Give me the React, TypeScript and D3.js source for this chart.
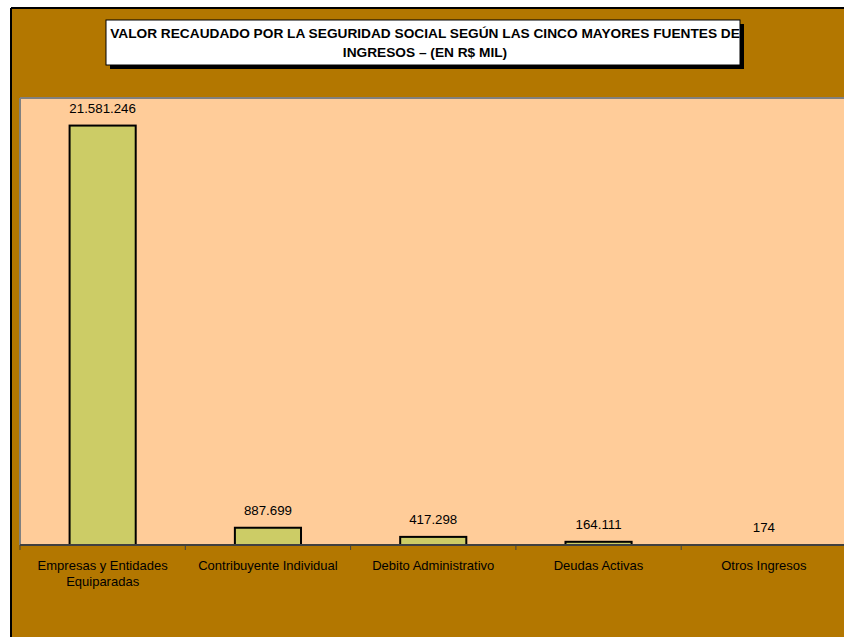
import React from "react";
import * as d3 from "d3";

const categories: string[][] = [
  ["Empresas y Entidades", "Equiparadas"],
  ["Contribuyente Individual"],
  ["Debito Administrativo"],
  ["Deudas Activas"],
  ["Otros Ingresos"],
];
const values: number[] = [21581246, 887699, 417298, 164111, 174];
const valueLabels: string[] = ["21.581.246", "887.699", "417.298", "164.111", "174"];
const titleLines: string[] = [
  "VALOR RECAUDADO POR LA SEGURIDAD SOCIAL SEGÚN LAS CINCO MAYORES FUENTES DE",
  "INGRESOS – (EN R$ MIL)",
];
const yMax = 23000000;

export default function App() {
  const W = 844, H = 637;
  const plot = { left: 20, top: 98, right: 846.5, bottom: 545 };
  const x = d3
    .scaleBand<number>()
    .domain(values.map((_, i) => i))
    .range([plot.left, plot.right])
    .paddingInner(0)
    .paddingOuter(0);
  const y = d3.scaleLinear().domain([0, yMax]).range([plot.bottom, plot.top]);
  const bw = x.bandwidth() * 0.4;
  const font = "Arial, 'Liberation Sans', sans-serif";
  const ticks = d3.range(values.length + 1).map((i) => plot.left + i * x.step());

  return (
    <svg
      width={W}
      height={H}
      style={{ position: "absolute", left: 0, top: 0, display: "block" }}
      fontFamily={font}
    >
      <rect x={0} y={0} width={W} height={H} fill="#ffffff" />
      <rect x={11} y={8} width={W} height={H} fill="#B37700" />
      <line x1={11} y1={8} x2={W} y2={8} stroke="#000" strokeWidth={2} />
      <line x1={11} y1={8} x2={11} y2={H} stroke="#000" strokeWidth={2} />

      {/* title */}
      <rect x={110} y={24} width={634} height={45} fill="#000" />
      <rect x={106} y={20} width={634} height={45} fill="#fff" stroke="#000" strokeWidth={1} />
      {titleLines.map((t, i) => (
        <text
          key={i}
          x={425}
          y={38 + i * 19}
          textAnchor="middle"
          fontSize={13.7}
          fontWeight="bold"
          fill="#000"
        >
          {t}
        </text>
      ))}

      {/* plot area */}
      <rect
        x={plot.left}
        y={plot.top}
        width={plot.right - plot.left}
        height={plot.bottom - plot.top}
        fill="#FFCC99"
      />
      <line x1={plot.left} y1={plot.top} x2={W} y2={plot.top} stroke="#808080" strokeWidth={2} />
      <line x1={plot.left} y1={plot.top} x2={plot.left} y2={plot.bottom} stroke="#808080" strokeWidth={2} />

      {values.map((v, i) => {
        const cx = (x(i) as number) + x.bandwidth() / 2;
        const top = y(v);
        return (
          <g key={i}>
            <rect
              x={cx - bw / 2}
              y={top}
              width={bw}
              height={plot.bottom - top}
              fill="#CCCC66"
              stroke="#000"
              strokeWidth={2}
            />
            <text x={cx} y={top - 12.5} textAnchor="middle" fontSize={13.3} fill="#000">
              {valueLabels[i]}
            </text>
          </g>
        );
      })}

      {/* axis */}
      <line x1={plot.left} y1={plot.bottom} x2={W} y2={plot.bottom} stroke="#404040" strokeWidth={2} />
      {ticks.map((t, i) => (
        <line key={i} x1={t} y1={plot.bottom} x2={t} y2={plot.bottom + 5} stroke="#404040" strokeWidth={1} />
      ))}
      {categories.map((lines, i) => {
        const cx = (x(i) as number) + x.bandwidth() / 2;
        return lines.map((l, j) => (
          <text key={`${i}-${j}`} x={cx} y={569.5 + j * 16} textAnchor="middle" fontSize={13} fill="#000">
            {l}
          </text>
        ));
      })}
    </svg>
  );
}
